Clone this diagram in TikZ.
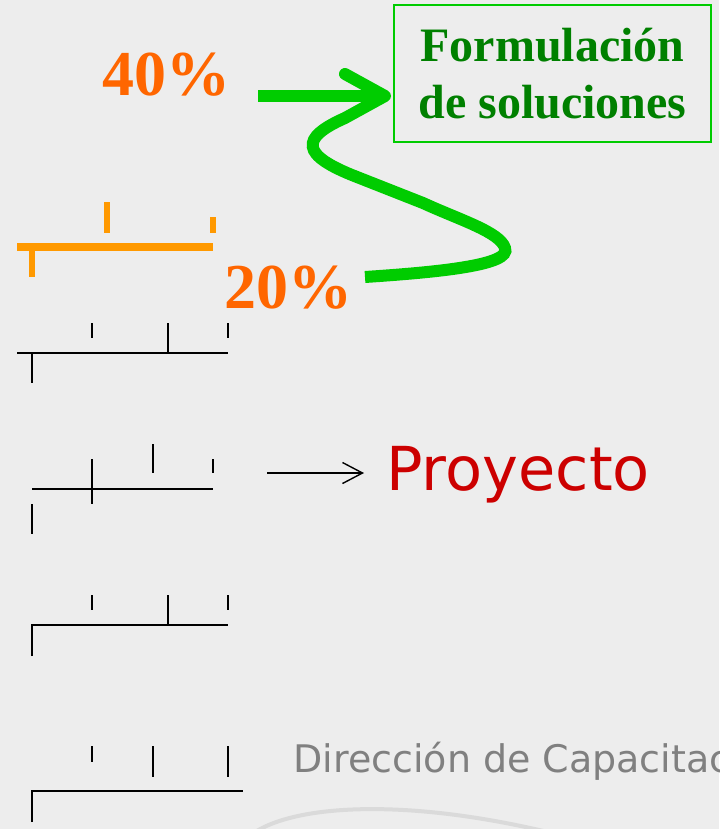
\documentclass[tikz,border=0pt]{standalone}
\usepackage{fontspec}
\setmainfont{Liberation Serif}
\setsansfont{DejaVu Sans}
\usetikzlibrary{calc}
\usetikzlibrary{arrows.meta}

\definecolor{bggray}{HTML}{EDEDED}
\definecolor{pctorange}{HTML}{FF6600}
\definecolor{scaleorange}{HTML}{FF9900}
\definecolor{brightgreen}{HTML}{00CC00}
\definecolor{darkgreen}{HTML}{008000}
\definecolor{proyred}{HTML}{CC0000}
\definecolor{footgray}{HTML}{808080}
\definecolor{swoosh}{HTML}{DADADA}

\begin{document}
\begin{tikzpicture}[x=0.5pt, y=-0.5pt]
\tikzset{pct/.style={text=pctorange,font=\bfseries\fontsize{32}{32}\selectfont,inner sep=0}}
\tikzset{greenline/.style={draw=brightgreen,line width=6pt}}
\tikzset{rule/.style={line width=1pt}}
\tikzset{orule/.style={draw=scaleorange,line width=3pt}}

\clip (0,0) rectangle (719,829);
\fill[bggray] (0,0) rectangle (719,829);

% box and percentages
\node[draw=brightgreen, line width=1pt, text=darkgreen, font=\bfseries\fontsize{24}{28.5}\selectfont,
      align=center, minimum width=158.5pt, minimum height=68.5pt, inner sep=0] (form) at (552.5,73.5)
      {Formulación\\de soluciones};
\node[pct] (p40) at (166,75) {40\%};
\node[pct] (p20) at (288,288) {20\%};

% arrow 40% -> box
\coordinate (a40) at (258,96);
\coordinate (tip) at ($(form.west |- a40)+(-8,0)$);
\draw[greenline] (a40) -- (tip);
\draw[greenline, line cap=round, line join=round] ($(tip)+(-40,-22)$) -- (tip) -- ($(tip)+(-40,22)$);

% the swirl from 20%
\coordinate (c20) at (365,277);
\draw[greenline] (c20) .. controls (440,272) and (512,265) .. (505,248)
  .. controls (500,232) and (460,220) .. (423,203)
  -- (357,177) .. controls (300,155) and (300,138) .. ($(tip)+(-40,22)$);

% orange scale
\draw[orule, line width=4pt] (17,247) -- (213,247);
\draw[orule] (32,247) -- (32,277);
\draw[orule] (107,202) -- (107,233);
\draw[orule] (213,217) -- (213,233);

% black scales
\draw[rule] (17,353) -- (228,353);
\draw[rule] (32,353) -- (32,383);
\draw[rule] (92,323) -- (92,338);
\draw[rule] (168,323) -- (168,353);
\draw[rule] (228,323) -- (228,338);

\draw[rule] (32,489) -- (213,489);
\draw[rule] (32,504) -- (32,534);
\draw[rule] (92,459) -- (92,504);
\draw[rule] (153,444) -- (153,473);
\draw[rule] (213,459) -- (213,473);

\draw[rule] (32,656) -- (32,625) -- (228,625);
\draw[rule] (92,595) -- (92,610);
\draw[rule] (168,595) -- (168,625);
\draw[rule] (228,595) -- (228,610);

\draw[rule] (32,822) -- (32,791) -- (243,791);
\draw[rule] (92,746) -- (92,762);
\draw[rule] (153,746) -- (153,777);
\draw[rule] (228,746) -- (228,777);

% proyecto
\node[text=proyred, font=\sffamily\fontsize{30.3}{30.3}\selectfont, inner sep=0, anchor=base west] (proy) at (386,490) {Proyecto};
\coordinate (pa) at (267,473);
\draw[-{Straight Barb[length=10pt,width=10.5pt]}, line width=0.7pt, shorten >=11pt] (pa) -- (proy.west |- pa);

% footer
\node[text=footgray, font=\sffamily\fontsize{19}{19}\selectfont, inner sep=0, anchor=base west] (dir) at (293,772) {Dirección de Capacitación};
\draw[swoosh, line width=2pt] (245,840) .. controls (280,805) and (400,795) .. (560,835);
\end{tikzpicture}
\end{document}
